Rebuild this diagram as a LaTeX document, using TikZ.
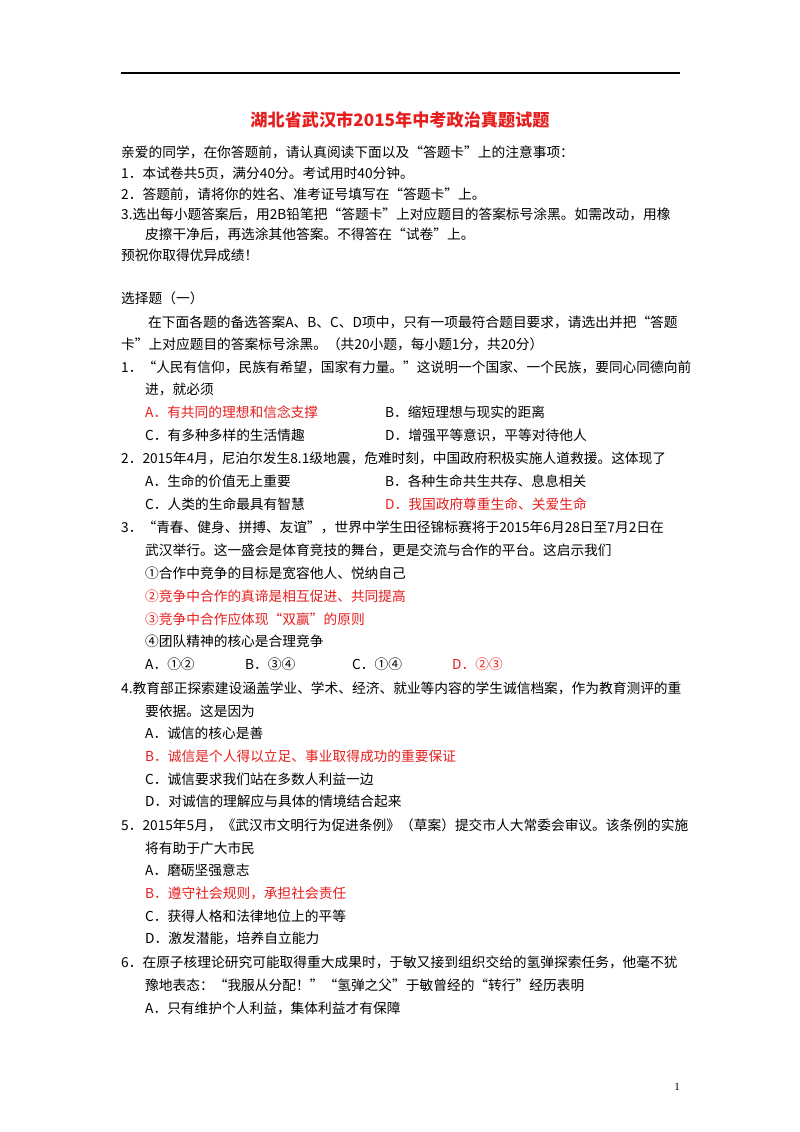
\documentclass[tikz,border=0pt]{standalone}
\usepackage{fontspec}
\setmainfont{Liberation Serif}
\newfontfamily\cjk{Noto Sans CJK SC}[Scale=0.98]
\definecolor{ans}{RGB}{230,30,30}
\begin{document}
\begin{tikzpicture}[x=1pt,y=-1pt,
  t/.style={anchor=west,inner sep=0pt,font=\cjk\fontsize{14}{16}\selectfont},
  r/.style={t,text=ans}]
\useasboundingbox (0,0) rectangle (800,1132);
\fill[white] (0,0) rectangle (800,1132);
\draw[line width=1.2pt] (121,73) -- (680,73);
\node[inner sep=0pt,text=ans,font=\cjk\bfseries\fontsize{17.5}{20}\selectfont] (title) at (400,120) {湖北省武汉市2015年中考政治真题试题};
\node[t] (l1) at (121,152) {亲爱的同学，在你答题前，请认真阅读下面以及“答题卡”上的注意事项：};
\node[t] (l2) at (121,173) {1．本试卷共5页，满分40分。考试用时40分钟。};
\node[t] (l3) at (121,194) {2．答题前，请将你的姓名、准考证号填写在“答题卡”上。};
\node[t] (l4) at (121,214) {3.选出每小题答案后，用2B铅笔把“答题卡”上对应题目的答案标号涂黑。如需改动，用橡};
\node[t] (l5) at (145,234) {皮擦干净后，再选涂其他答案。不得答在“试卷”上。};
\node[t] (l6) at (121,255) {预祝你取得优异成绩！};
\node[t] (s1) at (121,298) {选择题（一）};
\node[t] (s2) at (148,322) {在下面各题的备选答案A、B、C、D项中，只有一项最符合题目要求，请选出并把“答题};
\node[t] (s3) at (121,344) {卡”上对应题目的答案标号涂黑。（共20小题，每小题1分，共20分）};
\node[t] (q1) at (121,367) {1．“人民有信仰，民族有希望，国家有力量。”这说明一个国家、一个民族，要同心同德向前};
\node[t] (q1b) at (145,389) {进，就必须};
\node[r] (q1A) at (145,412) {A．有共同的理想和信念支撑};
\node[t] (q1B) at (385,412) {B．缩短理想与现实的距离};
\node[t] (q1C) at (145,435) {C．有多种多样的生活情趣};
\node[t] (q1D) at (385,435) {D．增强平等意识，平等对待他人};
\node[t] (q2) at (121,458) {2．2015年4月，尼泊尔发生8.1级地震，危难时刻，中国政府积极实施人道救援。这体现了};
\node[t] (q2A) at (145,481) {A．生命的价值无上重要};
\node[t] (q2B) at (385,481) {B．各种生命共生共存、息息相关};
\node[t] (q2C) at (145,504) {C．人类的生命最具有智慧};
\node[r] (q2D) at (385,504) {D．我国政府尊重生命、关爱生命};
\node[t] (q3) at (121,527) {3．“青春、健身、拼搏、友谊”，世界中学生田径锦标赛将于2015年6月28日至7月2日在};
\node[t] (q3b) at (145,550) {武汉举行。这一盛会是体育竞技的舞台，更是交流与合作的平台。这启示我们};
\node[t] (q3i) at (145,573) {①合作中竞争的目标是宽容他人、悦纳自己};
\node[r] (q3ii) at (145,596) {②竞争中合作的真谛是相互促进、共同提高};
\node[r] (q3iii) at (145,619) {③竞争中合作应体现“双赢”的原则};
\node[t] (q3iv) at (145,641) {④团队精神的核心是合理竞争};
\node[t] (q3A) at (145,664) {A．①②};
\node[t] (q3B) at (245,664) {B．③④};
\node[t] (q3C) at (352,664) {C．①④};
\node[r] (q3D) at (452,664) {D．②③};
\node[t] (q4) at (121,688) {4.教育部正探索建设涵盖学业、学术、经济、就业等内容的学生诚信档案，作为教育测评的重};
\node[t] (q4b) at (145,711) {要依据。这是因为};
\node[t] (q4A) at (145,733) {A．诚信的核心是善};
\node[r] (q4B) at (145,756) {B．诚信是个人得以立足、事业取得成功的重要保证};
\node[t] (q4C) at (145,779) {C．诚信要求我们站在多数人利益一边};
\node[t] (q4D) at (145,801) {D．对诚信的理解应与具体的情境结合起来};
\node[t] (q5) at (121,825) {5．2015年5月，《武汉市文明行为促进条例》（草案）提交市人大常委会审议。该条例的实施};
\node[t] (q5b) at (145,848) {将有助于广大市民};
\node[t] (q5A) at (145,870) {A．磨砺坚强意志};
\node[r] (q5B) at (145,893) {B．遵守社会规则，承担社会责任};
\node[t] (q5C) at (145,916) {C．获得人格和法律地位上的平等};
\node[t] (q5D) at (145,938) {D．激发潜能，培养自立能力};
\node[t] (q6) at (121,962) {6．在原子核理论研究可能取得重大成果时，于敏又接到组织交给的氢弹探索任务，他毫不犹};
\node[t] (q6b) at (145,985) {豫地表态：“我服从分配！”“氢弹之父”于敏曾经的“转行”经历表明};
\node[t] (q6A) at (145,1008) {A．只有维护个人利益，集体利益才有保障};
\node[inner sep=0pt,font=\fontsize{11}{12}\selectfont] (pg) at (677,1087) {1};
\end{tikzpicture}
\end{document}
